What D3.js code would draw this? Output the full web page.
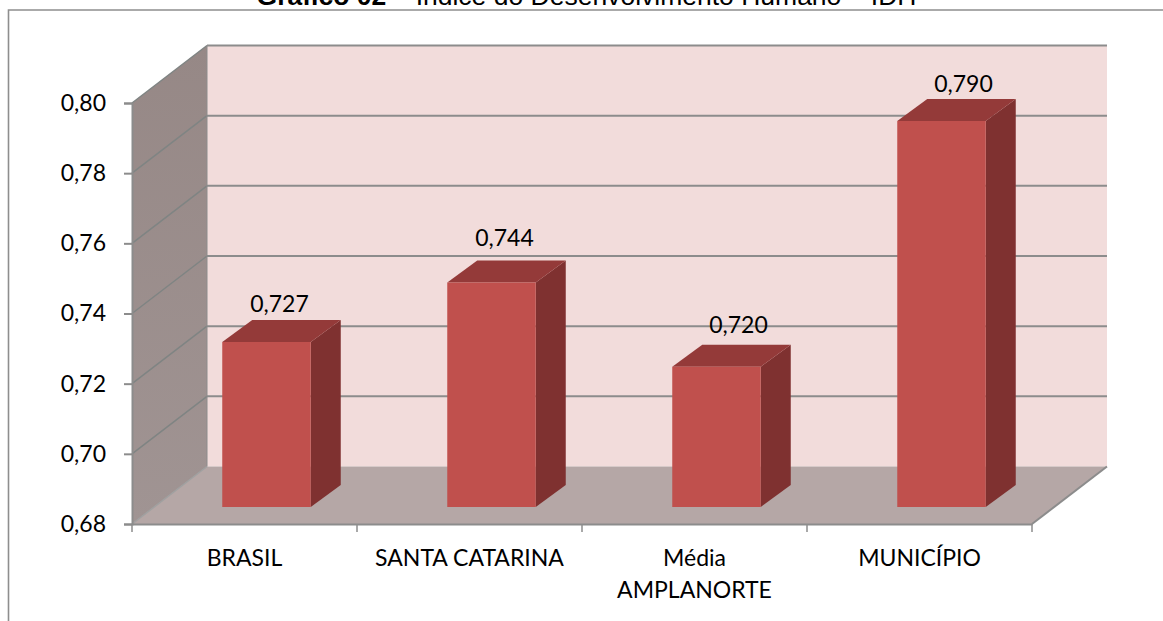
<!DOCTYPE html>
<html><head><meta charset="utf-8">
<script src="https://cdnjs.cloudflare.com/ajax/libs/d3/7.8.5/d3.min.js"></script>
<style>html,body{margin:0;padding:0;background:#fff;overflow:hidden}svg{display:block}</style>
</head><body><svg id="c" width="1163" height="621"></svg>
<script>
const categories = ["BRASIL","SANTA CATARINA","Média AMPLANORTE","MUNICÍPIO"];
const categoryLines = [["BRASIL"],["SANTA CATARINA"],["Média","AMPLANORTE"],["MUNICÍPIO"]];
const values = [0.727,0.744,0.720,0.790];
const valueLabels = ["0,727","0,744","0,720","0,790"];
const yTicks = [0.68,0.70,0.72,0.74,0.76,0.78,0.80];
const labelNudgeX = [-2,-2,7,7];
const labelNudgeY = [-38,-44,-42,-37];

const svg = d3.select("#c");
const x0=132,x1=1032,depthX=75,depthY=-57.5;
const y = d3.scaleLinear().domain([0.68,0.80]).range([524,103]);
const x = d3.scaleBand().domain(categories).range([x0,x1]);
const barW=88.5, barDX=22, barDY=17, sideX=30, sideY=-22;
const grid="#8c8c8c";
const poly=(pts,fill,stroke)=>svg.append("polygon").attr("points",pts.map(p=>p.join(",")).join(" ")).attr("fill",fill).attr("stroke",stroke||"none");
const line=(a,b,c,w)=>svg.append("line").attr("x1",a[0]).attr("y1",a[1]).attr("x2",b[0]).attr("y2",b[1]).attr("stroke",c||grid).attr("stroke-width",w||2);

// frame
svg.append("path").attr("d","M8.5,621V10H1163").attr("fill","none").attr("stroke","#8e8e8e").attr("stroke-width",1.6);

// title
const t=svg.append("text").attr("x",586.5).attr("y",5).attr("text-anchor","middle").attr("font-family","Liberation Sans").attr("font-size",26.5).attr("fill","#000");
t.append("tspan").attr("font-weight","bold").text("Gráfico 02");
t.append("tspan").text(" – Índice do Desenvolvimento Humano – IDH");

// walls
const yb=y(0.68), yt=y(0.80);
poly([[x0+depthX,yt+depthY],[x1+depthX,yt+depthY],[x1+depthX,yb+depthY],[x0+depthX,yb+depthY]],"#f2dcdb");
const sideGrad=svg.append("defs").append("linearGradient").attr("id","side").attr("x1",0).attr("y1",0).attr("x2",0).attr("y2",1);
sideGrad.append("stop").attr("offset",0).attr("stop-color","#968886");
sideGrad.append("stop").attr("offset",1).attr("stop-color","#a09493");
poly([[x0,yt],[x0+depthX,yt+depthY],[x0+depthX,yb+depthY],[x0,yb]],"url(#side)");
poly([[x0,yb],[x1,yb],[x1+depthX,yb+depthY],[x0+depthX,yb+depthY]],"#b5a7a6");

// gridlines
yTicks.slice(1).forEach(v=>{
  line([x0,y(v)],[x0+depthX,y(v)+depthY],"#7f8483",1.5);
  line([x0+depthX,y(v)+depthY],[x1+depthX,y(v)+depthY],grid,2);
});
line([x0,yb],[x0+depthX,yb+depthY],"#a0a0a0",1.5);
line([x1,yb],[x1+depthX,yb+depthY],grid,2);
line([x0+depthX,yt+depthY],[x0+depthX,yb+depthY],"#8c8c8c",1);

// axes
const yAxis=svg.append("g").attr("transform",`translate(${x0},0)`).call(d3.axisLeft(y).tickValues(yTicks).tickSize(8).tickPadding(18).tickFormat(d=>d3.format(".2f")(d).replace(".",",")));
const xAxis=svg.append("g").attr("transform",`translate(0,${yb})`).call(d3.axisBottom(x).tickSize(0).tickFormat(""));
xAxis.selectAll(".tick").remove();
[...categories.map(c=>x(c)),x1].forEach(px=>line([px,yb],[px,yb+8],grid,1.5));
[yAxis,xAxis].forEach(g=>{g.selectAll("path,line").attr("stroke",grid).attr("stroke-width",2);g.selectAll(".domain").attr("stroke-width",2);});
yAxis.selectAll("text").attr("font-family","Lato").attr("font-size",23).attr("fill","#000");

// bars
categories.forEach((c,i)=>{
  const cx=x(c)+x.bandwidth()/2+barDX;
  const l=cx-barW/2,r=cx+barW/2,tp=y(values[i])-barDY,bt=yb-barDY;
  poly([[r,tp],[r+sideX,tp+sideY],[r+sideX,bt+sideY],[r,bt]],"#7f3130");
  poly([[l,tp],[l+sideX,tp+sideY],[r+sideX,tp+sideY],[r,tp]],"#943a39");
  poly([[l,tp],[r,tp],[r,bt],[l,bt]],"#c0504d");
  svg.append("text").attr("x",cx+sideX/2+labelNudgeX[i]).attr("y",tp+labelNudgeY[i]+8).attr("text-anchor","middle").attr("font-family","Lato").attr("font-size",23).attr("fill","#000").text(valueLabels[i]);
  const tx=svg.append("text").attr("x",x(c)+x.bandwidth()/2).attr("y",yb+42).attr("text-anchor","middle").attr("font-family","Lato").attr("font-size",23).attr("fill","#000");
  categoryLines[i].forEach((s,k)=>tx.append("tspan").attr("x",x(c)+x.bandwidth()/2).attr("dy",k?32:0).text(s));
});
</script></body></html>
